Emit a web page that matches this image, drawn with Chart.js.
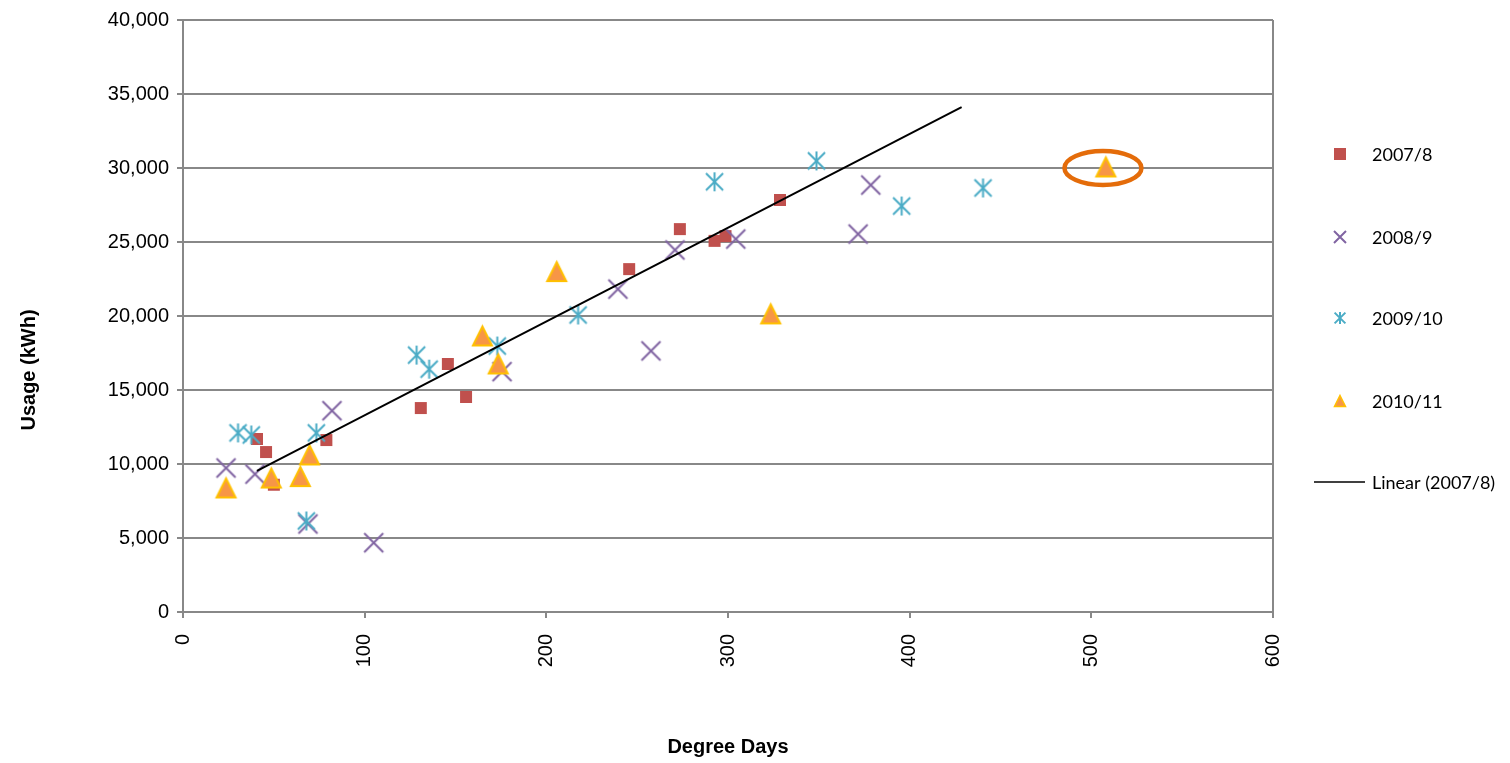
<!DOCTYPE html>
<html>
<head>
<meta charset="utf-8">
<title>Usage vs Degree Days</title>
<script src="https://cdn.jsdelivr.net/npm/chart.js@4.4.1/dist/chart.umd.min.js"></script>
<style>
html, body { margin: 0; padding: 0; background: #fff; }
#wrap { width: 1510px; height: 763px; }
</style>
</head>
<body>
<div id="wrap"><canvas id="usageChart" width="1510" height="763"></canvas></div>
<script>
// series names
const seriesNames = ['2007/8', '2008/9', '2009/10', '2010/11']
const trendName = 'Linear (2007/8)'
const xTitle = 'Degree Days'
const yTitle = 'Usage (kWh)'

// degree days (x) and usage in kWh (y)
const dd0708  = [40.7, 45.7, 50, 78.9, 130.9, 145.8, 155.8, 245.6, 273.5, 292.6, 298.6, 328.6]
const kwh0708 = [11690, 10810, 8600, 11620, 13780, 16760, 14530, 23170, 25870, 25080, 25400, 27840]

const dd0809  = [23.7, 39.6, 68.8, 82, 105, 175.6, 239.4, 257.6, 270.8, 304.3, 371.6, 378.6]
const kwh0809 = [9730, 9320, 5950, 13600, 4680, 16240, 21820, 17640, 24460, 25200, 25540, 28850]

const dd0910  = [30.3, 37.6, 67.9, 73.4, 128.6, 135.5, 173, 217.5, 292.6, 348.7, 395.6, 440.4]
const kwh0910 = [12100, 11960, 6150, 12100, 17360, 16410, 17970, 20070, 29070, 30480, 27430, 28650]

const dd1011  = [23.7, 48.6, 64.6, 69.7, 164.8, 173.5, 205.7, 323.5, 508]
const kwh1011 = [8380, 9050, 9150, 10610, 18650, 16760, 23000, 20140, 30070]

// trendline end points (Linear 2007/8)
const trendDD  = [40.7, 428.6]
const trendKwh = [9530, 34120]

// circled point
const highlightDD = 506.4
const highlightKwh = 30000

// axes
const xTickValues = [0, 100, 200, 300, 400, 500, 600]
const yTickValues = [0, 5000, 10000, 15000, 20000, 25000, 30000, 35000, 40000]

const axisFont = "'Liberation Sans', Arial, sans-serif"
const legendFont = "Lato, 'Open Sans', sans-serif"
const gridGray = '#888888'

let toPoints = function(xs, ys) {
	return xs.map((x, i) => ({ x: x, y: ys[i] }))
}

let drawMarker = function(c, kind, x, y, s) {
	let h = s / 2
	c.save()
	if (kind === 'square') {
		c.fillStyle = '#C0504D'
		c.fillRect(x - h, y - h, s, s)
	} else if (kind === 'cross') {
		c.strokeStyle = '#8064A2'
		c.lineWidth = 2
		c.beginPath()
		c.moveTo(x - h, y - h); c.lineTo(x + h, y + h)
		c.moveTo(x + h, y - h); c.lineTo(x - h, y + h)
		c.stroke()
	} else if (kind === 'star') {
		let d = h * 0.9
		c.strokeStyle = '#4BACC6'
		c.lineWidth = 2
		c.beginPath()
		c.moveTo(x - d, y - d); c.lineTo(x + d, y + d)
		c.moveTo(x + d, y - d); c.lineTo(x - d, y + d)
		c.moveTo(x, y - h); c.lineTo(x, y + h)
		c.stroke()
	} else if (kind === 'triangle') {
		c.fillStyle = '#F79646'
		c.strokeStyle = '#FFC000'
		c.lineWidth = s > 14 ? 2 : 1.5
		c.lineJoin = 'miter'
		c.beginPath()
		c.moveTo(x, y - h)
		c.lineTo(x + h, y + h)
		c.lineTo(x - h, y + h)
		c.closePath()
		c.fill()
		c.stroke()
	}
	c.restore()
}

let makeMarker = function(kind, s) {
	let cv = document.createElement('canvas')
	cv.width = s + 6
	cv.height = s + 6
	drawMarker(cv.getContext('2d'), kind, cv.width / 2, cv.height / 2, s)
	return cv
}

const markerKinds = ['square', 'cross', 'star', 'triangle']
const plotSizes = [12, 19, 19, 19]
const legendSizes = [12, 12, 12, 11]

// legend on the right, drawn by hand
const legendPlugin = {
	id: 'sideLegend',
	afterDraw(chart) {
		let c = chart.ctx
		let rows = [154, 237, 318, 401, 482]
		c.save()
		c.font = '18px ' + legendFont
		c.fillStyle = '#000'
		c.textBaseline = 'middle'
		c.textAlign = 'left'
		markerKinds.forEach(function(kind, i) {
			drawMarker(c, kind, 1340, rows[i], legendSizes[i])
			c.fillText(seriesNames[i], 1372, rows[i] + 1)
		})
		c.strokeStyle = '#000'
		c.lineWidth = 1.5
		c.beginPath()
		c.moveTo(1314, rows[4])
		c.lineTo(1365, rows[4])
		c.stroke()
		c.fillText(trendName, 1372, rows[4] + 1)
		c.restore()
	}
}

// y title sits lower than the plot centre in the original
const yTitlePlugin = {
	id: 'yTitle',
	afterDraw(chart) {
		let c = chart.ctx
		c.save()
		c.translate(29, 370)
		c.rotate(-Math.PI / 2)
		c.font = 'bold 20px ' + axisFont
		c.fillStyle = '#000'
		c.textAlign = 'center'
		c.textBaseline = 'middle'
		c.fillText(yTitle, 0, 0)
		c.restore()
	}
}

const ellipsePlugin = {
	id: 'highlightRing',
	afterDatasetsDraw(chart) {
		let c = chart.ctx
		let cx = chart.scales.x.getPixelForValue(highlightDD)
		let cy = chart.scales.y.getPixelForValue(highlightKwh)
		c.save()
		c.strokeStyle = '#E46C0A'
		c.lineWidth = 4.5
		c.beginPath()
		c.ellipse(cx, cy, 38.5, 17, 0, 0, Math.PI * 2)
		c.stroke()
		c.restore()
	}
}

const allDD = [dd0708, dd0809, dd0910, dd1011]
const allKwh = [kwh0708, kwh0809, kwh0910, kwh1011]

let datasets = seriesNames.map(function(name, i) {
	return {
		type: 'scatter',
		label: name,
		data: toPoints(allDD[i], allKwh[i]),
		pointStyle: makeMarker(markerKinds[i], plotSizes[i]),
		pointRadius: 10,
		order: 5 - i
	}
})
datasets.push({
	type: 'line',
	label: trendName,
	data: toPoints(trendDD, trendKwh),
	borderColor: '#000',
	borderWidth: 2,
	pointRadius: 0,
	fill: false,
	order: 0
})

const ctx = document.getElementById('usageChart').getContext('2d')

let usageChart = new Chart(ctx, {
	type: 'scatter',
	data: { datasets: datasets },
	options: {
		responsive: false,
		animation: false,
		layout: { padding: { top: 20, right: 237, bottom: 0, left: 0 } },
		plugins: {
			legend: { display: false },
			tooltip: { enabled: false }
		},
		scales: {
			x: {
				type: 'linear',
				min: 0,
				max: 600,
				afterBuildTicks: function(scale) {
					scale.ticks = xTickValues.map(v => ({ value: v }))
				},
				afterFit: function(scale) { scale.height = 151 },
				ticks: {
					minRotation: 90,
					maxRotation: 90,
					padding: 16,
					color: '#000',
					font: { family: axisFont, size: 20 }
				},
				grid: {
					color: (c) => (c.tick && c.tick.value === 600 ? gridGray : 'rgba(0,0,0,0)'),
					tickColor: gridGray,
					lineWidth: 2,
					tickLength: 6
				},
				border: { color: gridGray, width: 2 },
				title: {
					display: true,
					text: xTitle,
					color: '#000',
					padding: { top: 0, bottom: 4 },
					font: { family: axisFont, size: 20, weight: 'bold' }
				}
			},
			y: {
				type: 'linear',
				min: 0,
				max: 40000,
				afterBuildTicks: function(scale) {
					scale.ticks = yTickValues.map(v => ({ value: v }))
				},
				afterFit: function(scale) { scale.width = 183 },
				ticks: {
					padding: 8,
					color: '#000',
					font: { family: axisFont, size: 20 },
					callback: (v) => v.toLocaleString('en-US')
				},
				grid: {
					color: gridGray,
					lineWidth: 2,
					tickLength: 6
				},
				border: { color: gridGray, width: 2 }
			}
		}
	},
	plugins: [ellipsePlugin, legendPlugin, yTitlePlugin]
})
</script>
</body>
</html>
